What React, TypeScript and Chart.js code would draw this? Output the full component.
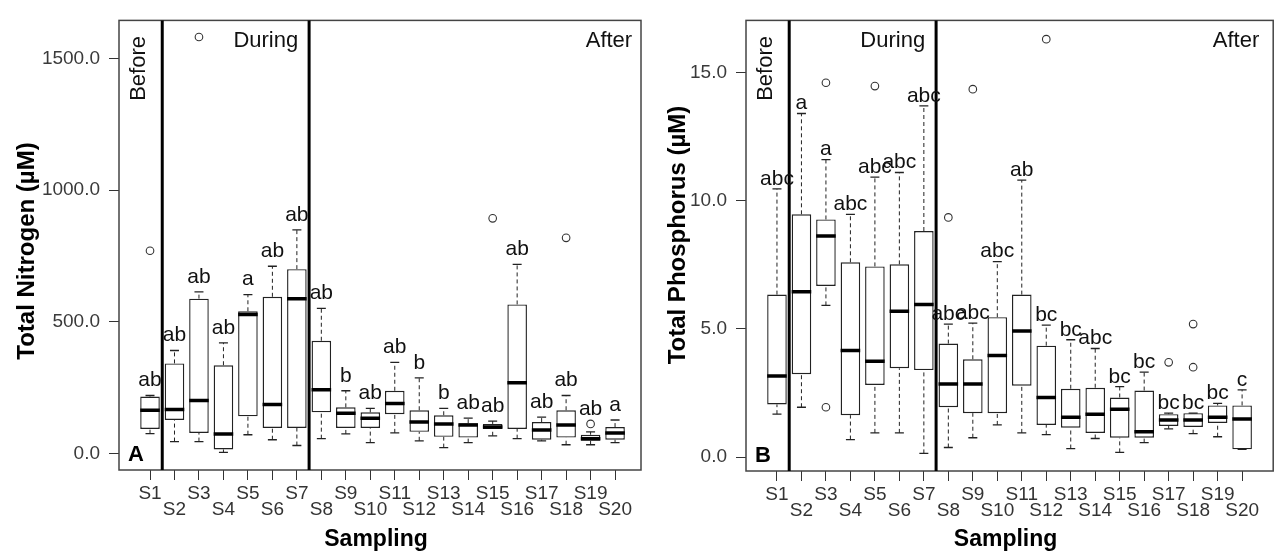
import React, { useEffect, useRef } from "react";
import { Chart, registerables } from "chart.js";

Chart.register(...registerables);

// ---------- data ----------
const categories = ["S1", "S2", "S3", "S4", "S5", "S6", "S7", "S8", "S9", "S10", "S11", "S12", "S13", "S14", "S15", "S16", "S17", "S18", "S19", "S20"];
const periods = ["Before", "During", "After"];
const periodBreaks = ["S1", "S7"]; // a period ends after these samples

// Total nitrogen (µM)
const tnWhiskerLow = [75, 45, 45, 4, 71, 52, 30, 56, 74, 41, 78, 48, 22, 41, 67, 56, 48, 33, 33, 41];
const tnQ1 = [93, 127, 78, 15, 141, 97, 97, 156, 97, 97, 149, 82, 63, 60, 93, 93, 52, 60, 48, 52];
const tnMedian = [164, 167, 201, 74, 528, 186, 588, 242, 153, 134, 190, 119, 112, 108, 100, 268, 89, 108, 56, 78];
const tnQ3 = [216, 342, 588, 335, 540, 595, 700, 428, 175, 156, 238, 164, 145, 115, 112, 566, 119, 164, 71, 100];
const tnWhiskerHigh = [220, 391, 614, 420, 603, 711, 849, 551, 238, 171, 346, 287, 171, 134, 123, 718, 138, 220, 82, 127];
const tnOutlierSample = ["S1", "S3", "S15", "S18", "S19"];
const tnOutlierValue = [770, 1582, 893, 819, 112];
const tnLetters = ["ab", "ab", "ab", "ab", "a", "ab", "ab", "ab", "b", "ab", "ab", "b", "b", "ab", "ab", "ab", "ab", "ab", "ab", "a"];
const tnTicks = [0, 500, 1000, 1500];

// Total phosphorus (µM)
const tpWhiskerLow = [1.68, 1.95, 5.92, 0.69, 0.95, 0.95, 0.15, 0.38, 0.76, 1.26, 0.95, 0.88, 0.34, 0.73, 0.19, 0.57, 1.11, 0.92, 0.8, 0.31];
const tpQ1 = [2.06, 3.24, 6.68, 1.64, 2.82, 3.47, 3.4, 1.95, 1.72, 1.72, 2.79, 1.26, 1.15, 0.95, 0.76, 0.76, 1.22, 1.18, 1.34, 0.31];
const tpMedian = [3.17, 6.45, 8.63, 4.16, 3.74, 5.69, 5.95, 2.86, 2.86, 3.97, 4.92, 2.33, 1.56, 1.68, 1.87, 0.99, 1.45, 1.45, 1.56, 1.49];
const tpQ3 = [6.34, 9.47, 9.27, 7.6, 7.44, 7.52, 8.82, 4.43, 3.82, 5.46, 6.34, 4.35, 2.67, 2.71, 2.33, 2.6, 1.68, 1.72, 2.02, 2.02];
const tpWhiskerHigh = [10.46, 13.4, 11.6, 9.47, 10.92, 11.1, 13.7, 5.19, 5.23, 7.63, 10.8, 5.15, 4.58, 4.24, 2.75, 3.32, 1.72, 1.72, 2.1, 2.63];
const tpOutlierSample = ["S3", "S3", "S5", "S8", "S9", "S12", "S17", "S18", "S18"];
const tpOutlierValue = [14.6, 1.95, 14.47, 9.35, 14.35, 16.3, 3.7, 3.51, 5.19];
const tpLetters = ["abc", "a", "a", "abc", "abc", "abc", "abc", "abc", "abc", "abc", "ab", "bc", "bc", "abc", "bc", "bc", "bc", "bc", "bc", "c"];
const tpTicks = [0, 5, 10, 15];

// ---------- layout / style ----------
const W = 1279;
const H = 553;
const FONT = '"Liberation Sans", Arial, Helvetica, sans-serif';

type Panel = {
  id: string;
  letter: string;
  yTitle: string;
  area: { left: number; top: number; right: number; bottom: number };
  xMin: number;
  xMax: number;
  yMin: number;
  yMax: number;
  ticks: number[];
  lo: number[];
  q1: number[];
  med: number[];
  q3: number[];
  hi: number[];
  outSample: string[];
  outValue: number[];
  letters: string[];
  labelGap: number;
  yTitleX: number;
  yTitleY: number;
};

const panelA: Panel = {
  id: "A",
  letter: "A",
  yTitle: "Total Nitrogen (µM)",
  area: { left: 119, top: 11, right: 641, bottom: 470 },
  xMin: -0.267,
  xMax: 21.06,
  yMin: -63,
  yMax: 1645,
  ticks: tnTicks,
  lo: tnWhiskerLow,
  q1: tnQ1,
  med: tnMedian,
  q3: tnQ3,
  hi: tnWhiskerHigh,
  outSample: tnOutlierSample,
  outValue: tnOutlierValue,
  letters: tnLetters,
  labelGap: 15,
  yTitleX: 27,
  yTitleY: 251,
};

const panelB: Panel = {
  id: "B",
  letter: "B",
  yTitle: "Total Phosphorus (µM)",
  area: { left: 746, top: 12, right: 1274, bottom: 471 },
  xMin: -0.265,
  xMax: 21.27,
  yMin: -0.536,
  yMax: 17.03,
  ticks: tpTicks,
  lo: tpWhiskerLow,
  q1: tpQ1,
  med: tpMedian,
  q3: tpQ3,
  hi: tpWhiskerHigh,
  outSample: tpOutlierSample,
  outValue: tpOutlierValue,
  letters: tpLetters,
  labelGap: 10,
  yTitleX: 678,
  yTitleY: 235,
};

function decorPlugin(p: Panel) {
  return {
    id: "decor" + p.id,
    afterDraw(chart: any) {
      const { ctx, chartArea: a } = chart;
      const x = chart.scales.x;
      const y = chart.scales.y;
      ctx.save();
      // frame
      ctx.strokeStyle = "#444";
      ctx.lineWidth = 1.5;
      ctx.strokeRect(a.left, a.top, a.right - a.left, a.bottom - a.top);
      // period separators
      ctx.strokeStyle = "#000";
      ctx.lineWidth = 3;
      periodBreaks.forEach((name) => {
        const i = categories.indexOf(name) + 1;
        const px = (x.getPixelForValue(i) + x.getPixelForValue(i + 1)) / 2;
        ctx.beginPath();
        ctx.moveTo(px, a.top);
        ctx.lineTo(px, a.bottom);
        ctx.stroke();
      });
      // significance letters
      ctx.fillStyle = "#111";
      ctx.font = `21px ${FONT}`;
      ctx.textAlign = "center";
      ctx.textBaseline = "middle";
      p.letters.forEach((t, i) => {
        const px = x.getPixelForValue(i + 1);
        let anchor = y.getPixelForValue(p.hi[i]);
        p.outSample.forEach((s, k) => {
          if (s === categories[i]) {
            const oy = y.getPixelForValue(p.outValue[k]);
            if (oy < anchor && anchor - oy < 30) anchor = oy;
          }
        });
        ctx.fillText(t, px, anchor - p.labelGap);
      });
      // period labels
      ctx.font = `22px ${FONT}`;
      ctx.save();
      ctx.translate(x.getPixelForValue(0.55), a.top + 48);
      ctx.rotate(-Math.PI / 2);
      ctx.fillText(periods[0], 0, 0);
      ctx.restore();
      ctx.fillText(periods[1], x.getPixelForValue(5.73), a.top + 21);
      ctx.fillText(periods[2], x.getPixelForValue(19.75), a.top + 21);
      // panel letter
      ctx.font = `bold 22px ${FONT}`;
      ctx.fillStyle = "#000";
      ctx.fillText(p.letter, a.left + 17, a.bottom - 15);
      // axis titles
      ctx.font = `bold 23px ${FONT}`;
      ctx.fillText("Sampling", (a.left + a.right) / 2 - 4, 540);
      ctx.save();
      ctx.font = `bold 24px ${FONT}`;
      ctx.translate(p.yTitleX, p.yTitleY);
      ctx.rotate(-Math.PI / 2);
      ctx.fillText(p.yTitle, 0, 0);
      ctx.restore();
      ctx.restore();
    },
  };
}

function makeConfig(p: Panel): any {
  const xs = categories.map((_, i) => i + 1);
  const whiskers: any[] = [];
  const caps: any[] = [];
  xs.forEach((xv, i) => {
    whiskers.push({ x: xv, y: p.q3[i] }, { x: xv, y: p.hi[i] }, { x: xv, y: null });
    whiskers.push({ x: xv, y: p.lo[i] }, { x: xv, y: p.q1[i] }, { x: xv, y: null });
    caps.push({ x: xv, y: p.hi[i] }, { x: xv, y: p.lo[i] });
  });
  const boxes = xs.map((xv, i) => ({ x: xv, y: [p.q1[i], p.q3[i]] }));
  const medians = xs.map((xv, i) => ({ x: xv, y: p.med[i] }));
  const outliers = p.outSample.map((s, k) => ({ x: categories.indexOf(s) + 1, y: p.outValue[k] }));
  const halfBox = (ctx: any) => {
    const s = ctx.chart.scales.x;
    return Math.abs(s.getPixelForValue(1.4) - s.getPixelForValue(1));
  };

  return {
    type: "scatter",
    data: {
      datasets: [
        {
          type: "line",
          data: whiskers,
          borderColor: "#222",
          borderWidth: 1,
          borderDash: [4, 3],
          pointRadius: 0,
          spanGaps: false,
          fill: false,
          order: 4,
        },
        {
          type: "bar",
          data: boxes,
          backgroundColor: "#fff",
          borderColor: "#222",
          borderWidth: 1.4,
          borderSkipped: false,
          barPercentage: 0.8,
          categoryPercentage: 1,
          order: 3,
        },
        {
          type: "scatter",
          data: caps,
          pointStyle: "line",
          pointRadius: 4.5,
          borderColor: "#222",
          borderWidth: 1.3,
          order: 2,
        },
        {
          type: "scatter",
          data: medians,
          pointStyle: "line",
          pointRadius: halfBox,
          borderColor: "#000",
          borderWidth: 3.5,
          order: 1,
        },
        {
          type: "scatter",
          data: outliers,
          pointStyle: "circle",
          pointRadius: 3.8,
          borderColor: "#333",
          borderWidth: 1.1,
          backgroundColor: "rgba(0,0,0,0)",
          order: 1,
        },
      ],
    },
    options: {
      responsive: false,
      animation: false,
      events: [],
      layout: { padding: { left: 0, top: p.area.top, right: W - p.area.right, bottom: 0 } },
      plugins: { legend: { display: false }, tooltip: { enabled: false } },
      scales: {
        x: {
          type: "linear",
          min: p.xMin,
          max: p.xMax,
          offset: false,
          afterBuildTicks: (s: any) => {
            s.ticks = xs.map((v) => ({ value: v }));
          },
          afterFit: (s: any) => {
            s.height = H - p.area.bottom;
          },
          ticks: {
            autoSkip: false,
            maxRotation: 0,
            minRotation: 0,
            padding: 6,
            color: "#333",
            font: { family: FONT, size: 19, lineHeight: "16px" },
            callback: (v: any) => {
              const i = Math.round(Number(v)) - 1;
              const lab = categories[i];
              return i % 2 === 0 ? lab : ["", lab];
            },
          },
          grid: { display: true, drawOnChartArea: false, drawTicks: true, tickLength: 10, color: "#333", lineWidth: 1, offset: false },
          border: { display: false },
        },
        y: {
          type: "linear",
          min: p.yMin,
          max: p.yMax,
          afterBuildTicks: (s: any) => {
            s.ticks = p.ticks.map((v) => ({ value: v }));
          },
          afterFit: (s: any) => {
            s.width = p.area.left;
          },
          ticks: {
            padding: 9,
            color: "#3a3a3a",
            font: { family: FONT, size: 19 },
            callback: (v: any) => Number(v).toFixed(1),
          },
          grid: { display: true, drawOnChartArea: false, drawTicks: true, tickLength: 10, color: "#333", lineWidth: 1 },
          border: { display: false },
        },
      },
    },
    plugins: [decorPlugin(p)],
  };
}

export default function App() {
  const refA = useRef<HTMLCanvasElement>(null);
  const refB = useRef<HTMLCanvasElement>(null);

  useEffect(() => {
    document.body.style.margin = "0";
    const charts = [new Chart(refA.current as HTMLCanvasElement, makeConfig(panelA)), new Chart(refB.current as HTMLCanvasElement, makeConfig(panelB))];
    return () => charts.forEach((c) => c.destroy());
  }, []);

  return (
    <div style={{ position: "relative", width: W, height: H, background: "#fff", overflow: "hidden" }}>
      <canvas ref={refA} width={W} height={H} style={{ position: "absolute", left: 0, top: 0 }} />
      <canvas ref={refB} width={W} height={H} style={{ position: "absolute", left: 0, top: 0 }} />
    </div>
  );
}
